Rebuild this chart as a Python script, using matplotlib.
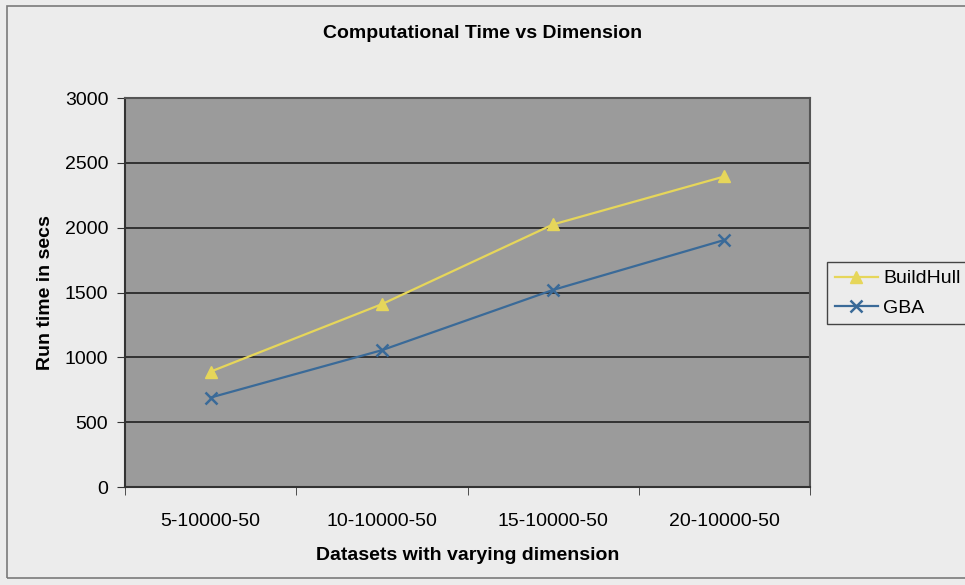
import matplotlib.pyplot as plt
from matplotlib.patches import Rectangle

# data
categories = ['5-10000-50', '10-10000-50', '15-10000-50', '20-10000-50']
buildhull = [890, 1410, 2025, 2395]
gba = [690, 1055, 1520, 1905]
yticks = [0, 500, 1000, 1500, 2000, 2500, 3000]

plt.rcParams['font.family'] = ['Liberation Sans', 'DejaVu Sans']

W, H = 965, 585
fig = plt.figure(figsize=(W / 100, H / 100), dpi=100)
fig.patch.set_facecolor('#ececec')

# outer chart border
fig.patches.append(Rectangle((7 / W, 1 - 578 / H), 1.0, (578 - 6) / H,
                             transform=fig.transFigure, fill=False,
                             edgecolor='#7a7a7a', linewidth=1.2))

ax = fig.add_axes([125 / W, 1 - 487 / H, (810 - 125) / W, (487 - 98) / H])
ax.set_facecolor('#9b9b9b')

x = list(range(len(categories)))
ax.plot(x, buildhull, color='#e6d65a', marker='^', markersize=8,
        linewidth=1.6, label='BuildHull')
ax.plot(x, gba, color='#3a6a98', marker='x', markersize=9, markeredgewidth=1.8,
        linewidth=1.6, label='GBA')

ax.set_xlim(-0.5, len(categories) - 0.5)
ax.set_ylim(0, 3000)
ax.set_yticks(yticks)
ax.set_xticks(x)
ax.set_xticklabels(categories, fontsize=14)
ax.tick_params(axis='x', length=0, pad=19)
ax.set_xticks([i - 0.5 for i in range(len(categories) + 1)], minor=True)
ax.tick_params(axis='x', which='minor', length=6, direction='out', color='#333333')
ax.tick_params(axis='y', labelsize=14, length=6, direction='out', color='#333333', pad=6)
ax.grid(axis='y', color='#2a2a2a', linewidth=1.3)
ax.set_axisbelow(True)

for side in ['top', 'right']:
    ax.spines[side].set_color('#555555')
    ax.spines[side].set_linewidth(1.5)
for side in ['left', 'bottom']:
    ax.spines[side].set_color('#333333')
    ax.spines[side].set_linewidth(1.5)

ax.set_xlabel('Datasets with varying dimension', fontsize=14, fontweight='bold', labelpad=12)
ax.set_ylabel('Run time in secs', fontsize=14, fontweight='bold', labelpad=8)
fig.text(0.5, 1 - 33 / H, 'Computational Time vs Dimension', ha='center', va='center',
         fontsize=14, fontweight='bold')

leg = fig.legend(loc='upper left', bbox_to_anchor=(827 / W, 1 - 262 / H),
                 fontsize=14, frameon=True, fancybox=False, edgecolor='#444444',
                 facecolor='#ececec', framealpha=1, handlelength=2.2,
                 borderpad=0.4, labelspacing=0.6, handletextpad=0.3, borderaxespad=0)
leg.get_frame().set_linewidth(1.0)

fig.savefig('out.png', dpi=100, facecolor=fig.get_facecolor())
